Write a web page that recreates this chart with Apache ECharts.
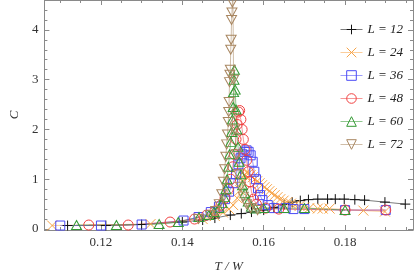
<!DOCTYPE html>
<html><head><meta charset="utf-8">
<script src="https://cdn.jsdelivr.net/npm/echarts@6/dist/echarts.min.js"></script>
<style>html,body{margin:0;padding:0;background:#fff}#c{width:415px;height:278px}</style>
</head><body><div id="c"></div>
<script>
const seriesNames = ['L = 12','L = 24','L = 36','L = 48','L = 60','L = 72'];
const xMajor = [0.12, 0.14, 0.16, 0.18];
const xMinor = [0.11,0.115,0.125,0.13,0.135,0.145,0.15,0.155,0.165,0.17,0.175,0.185,0.19,0.195];
const yMajor = [0, 1, 2, 3, 4];
const yMinor = [0.2,0.4,0.6,0.8,1.2,1.4,1.6,1.8,2.2,2.4,2.6,2.8,3.2,3.4,3.6,3.8,4.2,4.4,4.6];

const dataL12 = [[0.1118,0.07],[0.1212,0.07],[0.1300,0.09],[0.1400,0.14],[0.1450,0.18],[0.1480,0.22],[0.1518,0.28],[0.1545,0.31],[0.1570,0.34],[0.1600,0.38],[0.1625,0.43],[0.1650,0.49],[0.1670,0.54],[0.1690,0.57],[0.1710,0.59],[0.1733,0.60],[0.1757,0.60],[0.1776,0.60],[0.1798,0.60],[0.1824,0.59],[0.1848,0.58],[0.1898,0.54],[0.1948,0.50]];
const dataL24 = [[0.1080,0.07],[0.1322,0.10],[0.1450,0.20],[0.1480,0.26],[0.1500,0.33],[0.1515,0.40],[0.1525,0.48],[0.1535,0.62],[0.1542,0.78],[0.1548,0.95],[0.1553,1.08],[0.1558,1.14],[0.1563,1.12],[0.1568,1.08],[0.1573,1.04],[0.1578,1.00],[0.1584,0.96],[0.1590,0.92],[0.1596,0.88],[0.1602,0.84],[0.1608,0.80],[0.1614,0.76],[0.1620,0.72],[0.1627,0.68],[0.1634,0.64],[0.1641,0.60],[0.1649,0.57],[0.1658,0.54],[0.1667,0.51],[0.1677,0.48],[0.1688,0.46],[0.1700,0.44],[0.1712,0.42],[0.1733,0.41],[0.1745,0.41],[0.1762,0.41],[0.1845,0.37],[0.1898,0.35]];
const dataL36 = [[0.1100,0.07],[0.1200,0.07],[0.1300,0.09],[0.1403,0.17],[0.1440,0.24],[0.1470,0.34],[0.1490,0.45],[0.1505,0.60],[0.1515,0.75],[0.1525,0.92],[0.1532,1.10],[0.1538,1.30],[0.1543,1.42],[0.1548,1.50],[0.1553,1.55],[0.1558,1.58],[0.1563,1.55],[0.1568,1.48],[0.1573,1.35],[0.1577,1.15],[0.1581,1.00],[0.1586,0.82],[0.1591,0.68],[0.1597,0.58],[0.1610,0.48],[0.1625,0.42],[0.1654,0.42],[0.1673,0.40],[0.1700,0.40],[0.1800,0.38],[0.1900,0.38]];
const dataL48 = [[0.1170,0.08],[0.1267,0.08],[0.1370,0.14],[0.1430,0.20],[0.1460,0.28],[0.1480,0.36],[0.1495,0.48],[0.1505,0.62],[0.1513,0.80],[0.1519,1.00],[0.1524,1.25],[0.1528,1.50],[0.1532,1.80],[0.1535,2.10],[0.1538,2.35],[0.1541,2.38],[0.1544,2.20],[0.1547,2.00],[0.1550,1.80],[0.1554,1.60],[0.1558,1.38],[0.1562,1.15],[0.1566,0.95],[0.1570,0.75],[0.1575,0.60],[0.1582,0.50],[0.1605,0.42],[0.1637,0.40],[0.1800,0.38],[0.1900,0.38]];
const dataL60 = [[0.1140,0.08],[0.1238,0.08],[0.1343,0.10],[0.1390,0.14],[0.1441,0.24],[0.1465,0.28],[0.1478,0.34],[0.1490,0.42],[0.1498,0.52],[0.1503,0.64],[0.1507,0.80],[0.1510,1.00],[0.1513,1.25],[0.1516,1.50],[0.1519,1.75],[0.1521,1.95],[0.1523,2.20],[0.1525,2.45],[0.1526,2.75],[0.1527,3.00],[0.1528,3.20],[0.1530,2.80],[0.1532,2.40],[0.1534,2.00],[0.1537,1.65],[0.1540,1.35],[0.1544,1.10],[0.1548,0.88],[0.1554,0.72],[0.1562,0.55],[0.1570,0.45],[0.1580,0.41],[0.1600,0.42],[0.1650,0.42],[0.1700,0.42],[0.1800,0.38]];
const dataL72 = [[0.1440,0.20],[0.1468,0.28],[0.1482,0.36],[0.1491,0.50],[0.1497,0.70],[0.1501,0.95],[0.1504,1.20],[0.1507,1.45],[0.1509,1.70],[0.1511,1.90],[0.1513,2.15],[0.1514,2.35],[0.1515,2.55],[0.1516,2.95],[0.1517,3.10],[0.1518,3.20],[0.1519,3.60],[0.1520,3.80],[0.1521,4.20],[0.1522,4.35],[0.1523,4.55],[0.1524,5.00],[0.1526,3.00],[0.1529,2.00],[0.1533,1.50],[0.1538,1.10],[0.1543,0.85],[0.1550,0.65],[0.1558,0.50],[0.1568,0.42],[0.1585,0.38]];

const allData = [dataL12, dataL24, dataL36, dataL48, dataL60, dataL72];
const colors = ['#111111','#f7a448','#4a4af5','#f04040','#339933','#a88660'];
const lineColors = ['rgba(17,17,17,0.55)','rgba(247,164,72,0.55)','rgba(74,74,245,0.55)','rgba(240,64,64,0.55)','rgba(51,153,51,0.55)','rgba(168,134,96,0.55)'];
const symbols = ['path://M0,5L10,5M5,0L5,10','path://M0,0L10,10M0,10L10,0','rect','circle','path://M5,0L10,8.66L0,8.66Z','path://M0,0L10,0L5,8.66Z'];
const sizes = [10, 10, 9, 10, [10,9], [10,9]];

const X_MIN = 0.1061, X_MAX = 0.1967, Y_MIN = -0.02, Y_MAX = 4.6;
const frame = '#8a8a8a';
const font = 'Liberation Serif';

function xAx(pos, vals, len, showLine, labels, name) {
  return {
    type: 'value', position: pos, min: X_MIN, max: X_MAX,
    axisLine: {show: showLine, onZero: false, lineStyle: {color: frame, width: 1}},
    axisTick: {show: true, inside: true, length: len, customValues: vals, lineStyle: {color: frame}},
    axisLabel: labels ? {show: true, customValues: vals, margin: 6, color: '#333', fontFamily: font, fontSize: 13, formatter: v => v.toFixed(2)} : {show: false},
    splitLine: {show: false},
    name: name || '', nameLocation: 'middle', nameGap: 30,
    nameTextStyle: {fontFamily: font, fontSize: 13, fontStyle: 'italic', color: '#333'}
  };
}
function yAx(pos, vals, len, showLine, labels, name) {
  return {
    type: 'value', position: pos, min: Y_MIN, max: Y_MAX,
    axisLine: {show: showLine, onZero: false, lineStyle: {color: frame, width: 1}},
    axisTick: {show: true, inside: true, length: len, customValues: vals, lineStyle: {color: frame}},
    axisLabel: labels ? {show: true, customValues: vals, margin: 6, color: '#333', fontFamily: font, fontSize: 13, formatter: v => String(Math.round(v))} : {show: false},
    splitLine: {show: false},
    name: name || '', nameLocation: 'middle', nameGap: 22, nameRotate: 90,
    nameTextStyle: {fontFamily: font, fontSize: 13, fontStyle: 'italic', color: '#333'}
  };
}

const series = allData.map((d, i) => ({
  name: seriesNames[i], type: 'line', data: d, xAxisIndex: 0, yAxisIndex: 0,
  symbol: symbols[i], symbolSize: sizes[i], showSymbol: true, showAllSymbol: true,
  clip: true, animation: false,
  itemStyle: {color: 'rgba(0,0,0,0)', borderColor: colors[i], borderWidth: 1},
  lineStyle: {color: lineColors[i], width: 1},
  emphasis: {disabled: true}
}));

const chart = echarts.init(document.getElementById('c'), null, {renderer: 'canvas'});
chart.setOption({
  animation: false,
  grid: {left: 34, right: 2, top: 0, bottom: 44, containLabel: false},
  xAxis: [
    xAx('bottom', xMajor, 5, true, true, 'T / W'),
    xAx('bottom', xMinor, 3, false, false),
    xAx('top', xMajor, 5, true, false),
    xAx('top', xMinor, 3, false, false)
  ],
  yAxis: [
    yAx('left', yMajor, 5, true, true, 'C'),
    yAx('left', yMinor, 3, false, false),
    yAx('right', yMajor, 5, true, false),
    yAx('right', yMinor, 3, false, false)
  ],
  legend: {
    orient: 'vertical', left: 335, top: 18, itemWidth: 22, itemHeight: 12, itemGap: 10,
    lineStyle: {width: 1},
    itemStyle: {borderWidth: 1},
    textStyle: {fontFamily: font, fontSize: 13, fontStyle: 'italic', color: '#222'},
    data: seriesNames
  },
  series: series
});
</script></body></html>
